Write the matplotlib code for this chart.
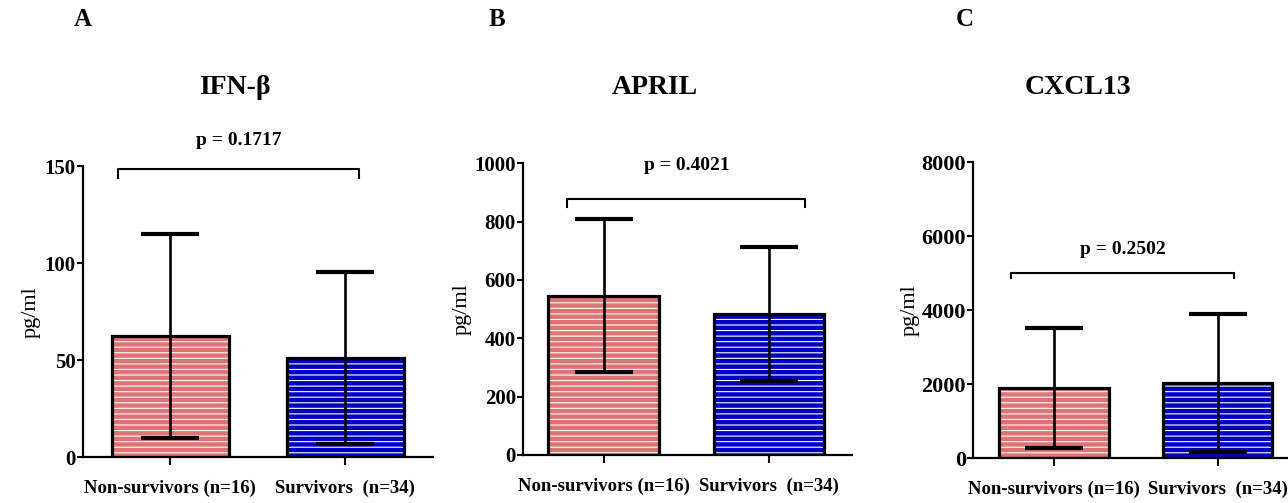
import matplotlib
matplotlib.use("Agg")
import matplotlib.pyplot as plt

plt.rcParams['font.family'] = ['Liberation Serif', 'DejaVu Serif']
plt.rcParams['font.weight'] = 'bold'
plt.rcParams['hatch.linewidth'] = 0.8

# dados (média e desvio padrão por grupo)
grupos = ["Non-survivors (n=16)", "Survivors  (n=34)"]
cores = ["#E07474", "#0000C0"]

ifn_media = [62.5, 51.0]
ifn_dp = [52.7, 44.4]
april_media = [546, 483]
april_dp = [263, 229]
cxcl_media = [1900, 2030]
cxcl_dp = [1610, 1870]

titulos = ["IFN-\u03b2", "APRIL", "CXCL13"]
letras = ["A", "B", "C"]
p_valores = ["p = 0.1717", "p = 0.4021", "p = 0.2502"]
ylims = [150, 1000, 8000]
yticks = [[0, 50, 100, 150], [0, 200, 400, 600, 800, 1000], [0, 2000, 4000, 6000, 8000]]
# colchete: (altura, altura da ponta, y do texto, x inicial, x final)
colchetes = [(148.5, 144, 163, -0.3, 1.08), (878, 851, 994, -0.22, 1.22), (5000, 4865, 5630, -0.26, 1.1)]

W, H = 1288, 503
fig = plt.figure(figsize=(W / 100, H / 100), dpi=100)

# posições dos eixos em pixels: esquerda, base, direita, topo
caixas = [(82.7, 457.3, 432.7, 166.0), (522.7, 455.0, 851.7, 163.3), (972.7, 458.3, 1288, 162.3)]
xlims = [(-0.5, 1.5), (-0.49, 1.5), (-0.497, 1.43)]
titulo_x = [235, 655, 1078]
letra_x = [83, 497, 965]
tam_ytick = [15, 15, 16]
pad_ylabel = [3, 2, 1]

dados = [(ifn_media, ifn_dp), (april_media, april_dp), (cxcl_media, cxcl_dp)]

for i in range(3):
    l, b, r, t = caixas[i]
    ax = fig.add_axes([l / W, (H - b) / H, (r - l) / W, (b - t) / H])
    media, dp = dados[i]
    x = [0, 1]
    # preenchimento com listras brancas
    ax.bar(x, media, width=0.67, color=cores, edgecolor="white", hatch="---", linewidth=0, zorder=2)
    ax.bar(x, media, width=0.67, color="none", edgecolor="black", linewidth=2.3, zorder=3)
    ax.errorbar(x, media, yerr=dp, fmt="none", ecolor="black", elinewidth=1.9,
                capsize=21, capthick=3, zorder=4)

    ax.set_xlim(*xlims[i])
    ax.set_ylim(0, ylims[i])
    ax.set_yticks(yticks[i])
    ax.set_xticks(x)
    ax.set_xticklabels(grupos, fontsize=13.5)
    ax.tick_params(axis="y", labelsize=tam_ytick[i], length=4, width=1.5, pad=1)
    ax.tick_params(axis="x", length=6, width=1.5, pad=10)
    ax.spines["top"].set_visible(False)
    ax.spines["right"].set_visible(False)
    ax.spines["left"].set_linewidth(1.6)
    ax.spines["bottom"].set_linewidth(1.6)
    ax.set_ylabel("pg/ml", fontsize=16, labelpad=pad_ylabel[i])

    yc, yp, yt, xa, xb = colchetes[i]
    ax.plot([xa, xa, xb, xb], [yp, yc, yc, yp], color="black", lw=1.5, clip_on=False)
    ax.text((xa + xb) / 2, yt, p_valores[i], ha="center", va="center", fontsize=14, clip_on=False)

    fig.text(titulo_x[i] / W, 1 - 88 / H, titulos[i], ha="center", va="center", fontsize=20)
    fig.text(letra_x[i] / W, 1 - 20 / H, letras[i], ha="center", va="center", fontsize=18)

fig.savefig("out.png", dpi=100)
